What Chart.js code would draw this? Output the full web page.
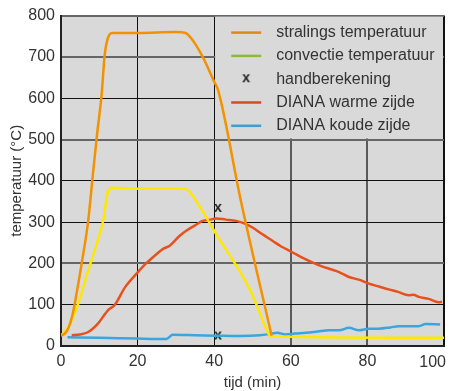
<!DOCTYPE html>
<html>
<head>
<meta charset="utf-8">
<script src="https://cdn.jsdelivr.net/npm/chart.js@4"></script>
<style>
  html, body { margin: 0; padding: 0; background: #ffffff; }
  #wrap { width: 451px; height: 391px; }
</style>
</head>
<body>
<div id="wrap"><canvas id="tempChart" width="451" height="391"></canvas></div>
<script>
// tijd (min) en temperatuur (°C) per lijn
const stralingsTijd = [0, 1, 2, 3, 3.6, 4.5, 5.4, 7.1, 8.4, 9.5, 10.6, 11.4, 12.3, 13.5, 20, 30, 32.5, 34, 37, 40, 41, 47, 55];
const stralingsTemp = [25, 30, 45, 75, 103, 150, 200, 303, 423, 519, 608, 704, 747, 758, 758, 760, 758, 745, 700, 640, 620, 350, 25];

const convectieTijd = [0, 1.9, 4.5, 7.1, 9.3, 11, 12.3, 13.6, 20, 30, 32.7, 34.4, 40.5, 49.2, 50.9, 54.4, 55, 100];
const convectieTemp = [25, 46, 103, 183, 247, 303, 375, 383, 381, 381, 380, 363, 271, 139, 103, 26, 23, 20];

const warmTijd = [2.8, 5, 7.1, 9.7, 12.3, 14, 16.7, 20.1, 22, 24.5, 26.6, 28.4, 31, 32.7, 35, 37, 39, 40.5, 43, 45.7, 47.5, 50, 52.5, 55.2, 57.5, 60.4, 63, 66.5, 70, 72.6, 75.2, 78, 80.4, 83, 85.6, 88, 90.8, 92, 93.4, 96, 98.6, 99.5];
const warmTemp = [26, 28, 34, 55, 87, 99, 142, 179, 198, 219, 235, 243, 267, 279, 292, 303, 306, 309, 306, 303, 298, 287, 271, 255, 241, 227, 214, 199, 187, 179, 167, 160, 151, 144, 137, 131, 123, 124, 119, 114, 106, 107];

const koudeTijd = [1.7, 10, 20, 27.5, 29.2, 35, 40.5, 46.6, 52, 54.4, 56.5, 58.6, 61, 64, 67, 70, 72.6, 75.2, 77.8, 80.4, 83, 86, 88.2, 93.4, 95.2, 99];
const koudeTemp = [21, 20, 18, 17, 27, 26, 25, 24, 26, 29, 32, 28, 30, 32, 35, 38, 38, 44, 38, 42, 42, 45, 48, 48, 53, 52];

const handTijd = [41, 41];
const handTemp = [332, 23];

const legendLabels = ["stralings temperatuur", "convectie temperatuur", "handberekening", "DIANA warme zijde", "DIANA koude zijde"];
const legendColors = ["#dc8a16", "#8cba3a", null, "#d44a22", "#3aa0d4"];

const xTicks = [0, 20, 40, 60, 80, 100];
const yTicks = [0, 100, 200, 300, 400, 500, 600, 700, 800];

function pairs(xs, ys) {
    return xs.map((v, i) => ({ x: v, y: ys[i] }));
}

// the little typewriter "x" used for handberekening
function makeCross() {
    const c = document.createElement("canvas");
    c.width = 12; c.height = 14;
    const g = c.getContext("2d");
    g.fillStyle = "#222";
    g.font = 'bold 14px "Liberation Mono"';
    g.textAlign = "center";
    g.textBaseline = "middle";
    g.fillText("x", 6, 6.5);
    return c;
}
const crossImg = makeCross();

const plotBackground = {
    id: "plotBackground",
    beforeDraw(chart) {
        const { ctx, chartArea: a } = chart;
        ctx.save();
        ctx.fillStyle = "#d9d9d9";
        ctx.fillRect(a.left, a.top, a.width, a.height);
        ctx.restore();
    }
};

// legend box in the top right corner, covering the grid but under the lines
const legendBox = {
    id: "legendBox",
    beforeDatasetsDraw(chart) {
        const { ctx, chartArea: a, scales: { x, y } } = chart;
        const left = x.getPixelForValue(40);
        const bottom = y.getPixelForValue(500);
        ctx.save();
        ctx.fillStyle = "#d9d9d9";
        ctx.fillRect(left + 1, a.top + 1, a.right - left - 2, bottom - a.top - 2);
        ctx.font = '16px "Liberation Sans"';
        ctx.textBaseline = "middle";
        ctx.fillStyle = "#333";
        legendLabels.forEach((label, i) => {
            const ly = a.top + 17 + i * 23.3;
            if (legendColors[i]) {
                ctx.strokeStyle = legendColors[i];
                ctx.lineWidth = 2.5;
                ctx.beginPath();
                ctx.moveTo(left + 17, ly);
                ctx.lineTo(left + 47, ly);
                ctx.stroke();
            } else {
                ctx.drawImage(crossImg, left + 26, ly - 7);
            }
            ctx.fillText(label, left + 62, ly);
        });
        ctx.restore();
    }
};

// last x label sits inside the frame, right aligned
const lastXLabel = {
    id: "lastXLabel",
    afterDraw(chart) {
        const { ctx, chartArea: a, scales: { x } } = chart;
        ctx.save();
        ctx.font = '16px "Liberation Sans"';
        ctx.fillStyle = "#333";
        ctx.textAlign = "right";
        ctx.textBaseline = "top";
        ctx.fillText(String(xTicks[xTicks.length - 1]), x.getPixelForValue(100) + 2, a.bottom + 9);
        ctx.restore();
    }
};

const lineOpts = {
    fill: false,
    pointRadius: 0,
    borderWidth: 2.5,
    cubicInterpolationMode: "monotone"
};

new Chart(document.getElementById("tempChart"), {
    type: "line",
    data: {
        datasets: [
            Object.assign({ label: legendLabels[0], data: pairs(stralingsTijd, stralingsTemp), borderColor: "#f39200" }, lineOpts),
            Object.assign({ label: legendLabels[1], data: pairs(convectieTijd, convectieTemp), borderColor: "#ffe800" }, lineOpts),
            Object.assign({ label: legendLabels[3], data: pairs(warmTijd, warmTemp), borderColor: "#e8501e" }, lineOpts),
            Object.assign({ label: legendLabels[4], data: pairs(koudeTijd, koudeTemp), borderColor: "#3aa6dd" }, lineOpts),
            {
                label: legendLabels[2],
                data: pairs(handTijd, handTemp),
                showLine: false,
                pointStyle: crossImg,
                pointRadius: 6
            }
        ]
    },
    options: {
        responsive: false,
        animation: false,
        layout: { padding: { top: 13, right: 5, left: 0, bottom: 0 } },
        plugins: {
            legend: { display: false },
            tooltip: { enabled: false }
        },
        scales: {
            x: {
                type: "linear",
                min: 0,
                max: 100,
                afterFit: scale => { scale.height = 45; scale.paddingLeft = 0; scale.paddingRight = 0; },
                afterBuildTicks: scale => { scale.ticks = xTicks.map(v => ({ value: v })); },
                ticks: {
                    color: "#333",
                    font: { family: "Liberation Sans", size: 16 },
                    padding: 6,
                    maxRotation: 0,
                    callback: v => (v === 100 ? "" : v)
                },
                grid: {
                    drawTicks: false,
                    color: c => (c.tick.value === 60 || c.tick.value === 80 ? "#5a5a5a" : "#111"),
                    lineWidth: c => (c.tick.value === 60 || c.tick.value === 80 || c.tick.value === 100 ? 2 : 1)
                },
                border: { color: "#222", width: 2 },
                title: {
                    display: true,
                    text: "tijd (min)",
                    color: "#333",
                    font: { family: "Liberation Sans", size: 15 },
                    padding: { top: 0, bottom: -1 }
                }
            },
            y: {
                min: 0,
                max: 800,
                afterFit: scale => { scale.width = 61; },
                afterBuildTicks: scale => { scale.ticks = yTicks.map(v => ({ value: v })); },
                ticks: {
                    color: "#333",
                    font: { family: "Liberation Sans", size: 16 },
                    padding: 6
                },
                grid: {
                    drawTicks: false,
                    color: c => ([200, 500, 700, 800].includes(c.tick.value) ? "#666" : "#111"),
                    lineWidth: c => ([200, 500, 700, 800].includes(c.tick.value) ? 2 : 1)
                },
                border: { color: "#222", width: 2 },
                title: {
                    display: true,
                    text: "temperatuur (°C)",
                    color: "#333",
                    font: { family: "Liberation Sans", size: 15 },
                    padding: { top: 8, bottom: 0 }
                }
            }
        }
    },
    plugins: [plotBackground, legendBox, lastXLabel]
});
</script>
</body>
</html>
